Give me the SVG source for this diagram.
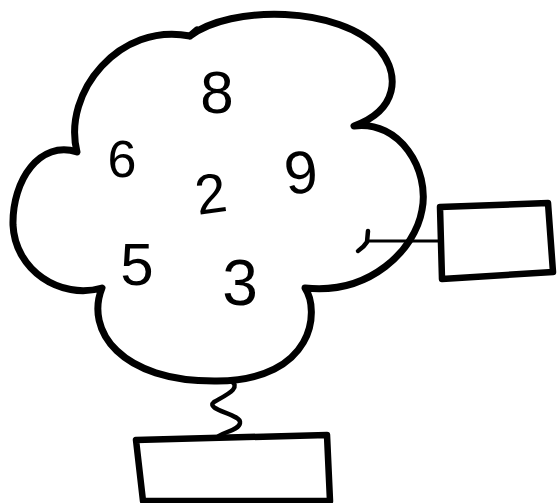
<svg xmlns="http://www.w3.org/2000/svg" width="558" height="503" viewBox="0 0 558 503">
<style>
.ink{fill:none;stroke:#000;stroke-linecap:round;stroke-linejoin:round}
.cloud{stroke-width:7}
.box{fill:#fff;stroke:#000;stroke-width:6.5;stroke-linejoin:round;stroke-linecap:round}
.thin{stroke-width:3.2}
.spring{stroke-width:4.5}
.num{font-family:"Liberation Sans",Arial,sans-serif;fill:#000;text-anchor:middle}
</style>
<rect width="558" height="503" fill="#fff"/>
<g id="connectors">
<path class="ink thin" d="M367,241 L439,241"/>
<path class="ink spring" d="M368,231 L367,242 Q364,247 358,251"/>
<path class="ink spring" d="M230,380 C243,388 226,395 214,402 C204,410 242,414 240,423 C239,431 220,432 215,439"/>
</g>
<g id="cloud">
<path class="ink cloud" d="M190,36 C230,5 340,5 380,50 C400,75 398,110 354,126 C400,120 430,170 422,210 C415,250 370,295 305,288 C320,310 315,380 217,381 C120,382 85,330 102,288 C60,300 15,270 13,225 C12,180 40,140 77,152 C62,92 120,22 190,36 L197,30"/>
<text class="num" x="217" y="113" font-size="60">8</text>
<text class="num" x="122" y="177" font-size="52">6</text>
<text class="num" x="301" y="193" font-size="60" transform="rotate(-6 301 172)">9</text>
<text class="num" x="211" y="213" font-size="56" transform="rotate(-8 211 195)">2</text>
<text class="num" x="137" y="285" font-size="60">5</text>
<text class="num" x="240" y="305" font-size="64">3</text>
</g>
<g id="box-right">
<path class="box" d="M440,207 L548,203 L553,272 L442,279 Z"/>
</g>
<g id="box-bottom">
<path class="box" d="M136,440 L327,435 L330,501 L143,501 Z"/>
</g>
</svg>
